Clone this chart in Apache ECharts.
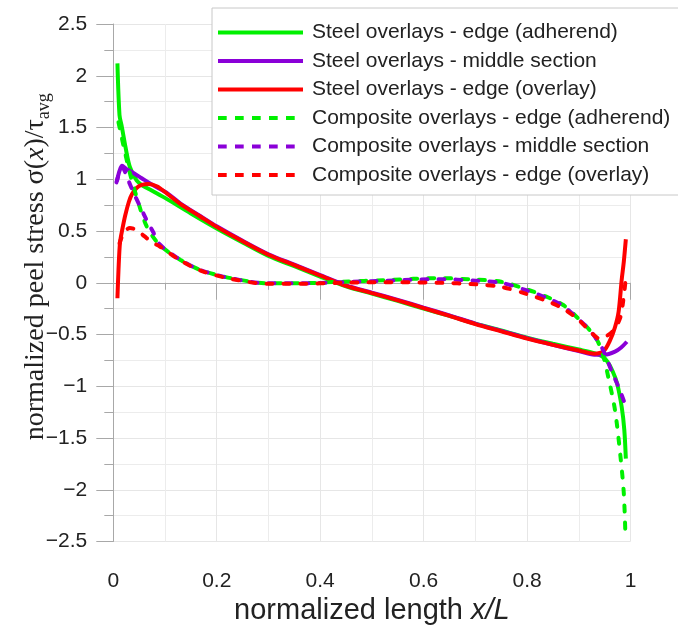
<!DOCTYPE html>
<html>
<head>
<meta charset="utf-8">
<script src="https://cdn.jsdelivr.net/npm/echarts@6/dist/echarts.min.js"></script>
<style>
html,body{margin:0;padding:0;background:#fff;}
#chart{width:678px;height:626px;}
</style>
</head>
<body>
<div id="chart"></div>
<script>
// ---- data ----
const seriesNames = [
  'Steel overlays - edge (adherend)',
  'Steel overlays - middle section',
  'Steel overlays - edge (overlay)',
  'Composite overlays - edge (adherend)',
  'Composite overlays - middle section',
  'Composite overlays - edge (overlay)'
];

const steelAdhX = [0.008,0.012,0.016,0.024,0.032,0.045,0.058,0.075,0.1,0.15,0.2,0.25,0.3,0.35,0.4,0.45,0.5,0.55,0.6,0.65,0.7,0.75,0.8,0.85,0.9,0.93,0.945,0.955,0.965,0.974,0.983,0.988,0.991];
const steelAdhY = [2.12,1.62,1.52,1.3,1.12,0.99,0.935,0.89,0.82,0.67,0.525,0.39,0.26,0.16,0.06,-0.035,-0.105,-0.175,-0.25,-0.32,-0.395,-0.46,-0.53,-0.59,-0.645,-0.68,-0.71,-0.76,-0.85,-0.97,-1.2,-1.42,-1.7];

const steelMidX = [0.007,0.012,0.017,0.025,0.039,0.055,0.071,0.085,0.103,0.13,0.168,0.2,0.25,0.3,0.35,0.4,0.45,0.5,0.55,0.6,0.65,0.7,0.75,0.8,0.85,0.9,0.93,0.95,0.97,0.982,0.993];
const steelMidY = [0.98,1.08,1.13,1.1,1.06,1.01,0.96,0.92,0.87,0.765,0.645,0.545,0.405,0.275,0.175,0.075,-0.025,-0.095,-0.165,-0.24,-0.315,-0.395,-0.465,-0.535,-0.6,-0.66,-0.695,-0.695,-0.665,-0.625,-0.57];

const steelOvlX = [0.008,0.010,0.013,0.018,0.023,0.03,0.036,0.045,0.055,0.068,0.085,0.103,0.13,0.168,0.2,0.25,0.3,0.35,0.4,0.45,0.5,0.55,0.6,0.65,0.7,0.75,0.8,0.85,0.9,0.93,0.948,0.961,0.97,0.977,0.983,0.987,0.991];
const steelOvlY = [-0.15,0.12,0.39,0.53,0.65,0.78,0.855,0.915,0.945,0.955,0.93,0.865,0.76,0.64,0.54,0.40,0.27,0.17,0.07,-0.03,-0.10,-0.17,-0.245,-0.32,-0.40,-0.47,-0.54,-0.60,-0.655,-0.685,-0.66,-0.55,-0.43,-0.28,0.03,0.2,0.42];

const compAdhX = [0.01,0.016,0.023,0.032,0.045,0.065,0.09,0.13,0.17,0.23,0.3,0.36,0.44,0.53,0.63,0.7,0.75,0.8,0.84,0.87,0.9,0.918,0.935,0.947,0.957,0.97,0.98,0.987,0.99];
const compAdhY = [1.55,1.41,1.25,1.06,0.83,0.54,0.365,0.22,0.12,0.042,-0.005,-0.005,0.01,0.026,0.045,0.03,0.01,-0.065,-0.14,-0.215,-0.35,-0.44,-0.55,-0.7,-0.91,-1.23,-1.65,-2.03,-2.41];

const compMidX = [0.006,0.012,0.017,0.022,0.029,0.04,0.052,0.065,0.077,0.09,0.13,0.17,0.23,0.3,0.36,0.44,0.53,0.63,0.7,0.75,0.8,0.84,0.87,0.9,0.918,0.935,0.947,0.964,0.978,0.99];
const compMidY = [0.97,1.07,1.12,1.08,0.99,0.86,0.735,0.6,0.49,0.37,0.22,0.12,0.04,-0.006,-0.006,0.005,0.02,0.035,0.02,0.0,-0.075,-0.15,-0.225,-0.355,-0.44,-0.55,-0.65,-0.86,-1.02,-1.18];

const compOvlX = [0.012,0.02,0.032,0.045,0.06,0.075,0.09,0.13,0.17,0.23,0.3,0.36,0.44,0.53,0.63,0.7,0.75,0.8,0.84,0.87,0.9,0.918,0.941,0.955,0.967,0.98,0.986,0.99];
const compOvlY = [0.38,0.48,0.53,0.51,0.45,0.39,0.35,0.215,0.115,0.035,-0.01,-0.01,0.0,0.005,0.0,-0.015,-0.04,-0.11,-0.18,-0.25,-0.36,-0.45,-0.54,-0.51,-0.46,-0.34,-0.17,0.0];

const xTicks = {min: 0, max: 1, step: 0.2};
const yTicks = {min: -2.5, max: 2.5, step: 0.5};

// ---- build ----
const GREEN = '#00f000', PURPLE = '#8a00d8', RED = '#ff0000';
const SOLID_ICON = 'path://M0,0H85V4H0Z';
const DASH_ICON = 'path://M0,0H8.7V4H0Z M17,0H25.7V4H17Z M34,0H42.7V4H34Z M51,0H59.7V4H51Z M68,0H76.7V4H68Z M85,0L85,4';
function pairs(xs, ys){ return xs.map((x,i)=>[x, ys[i]]); }
const defs = [
  [steelAdhX, steelAdhY, GREEN, 'solid'],
  [steelMidX, steelMidY, PURPLE, 'solid'],
  [steelOvlX, steelOvlY, RED, 'solid'],
  [compAdhX, compAdhY, GREEN, 'dash'],
  [compMidX, compMidY, PURPLE, 'dash'],
  [compOvlX, compOvlY, RED, 'dash']
];
const series = defs.map((d,i)=>({
  name: seriesNames[i],
  type: 'line',
  data: pairs(d[0], d[1]),
  showSymbol: false,
  symbol: 'none',
  smooth: 0.3,
  animation: false,
  lineStyle: {
    color: d[2],
    width: 4,
    type: d[3] === 'dash' ? [6, 11] : 'solid',
    cap: d[3] === 'dash' ? 'round' : 'butt'
  },
  itemStyle: {color: d[2]}
}));
const legendData = defs.map((d,i)=>({name: seriesNames[i], icon: d[3] === 'dash' ? DASH_ICON : SOLID_ICON}));

const fmt = v => String(+v.toFixed(2)).replace('-', '\u2212');
const SANS = 'Liberation Sans, Arial, sans-serif';
const SERIF = 'Liberation Serif, Times New Roman, serif';

const chart = echarts.init(document.getElementById('chart'), null, {renderer: 'canvas'});
chart.setOption({
  backgroundColor: '#fff',
  animation: false,
  grid: {left: 113.3, right: 47.5, top: 24, bottom: 84.5, containLabel: false, outerBoundsMode: 'none'},
  legend: {
    orient: 'vertical',
    left: 212, top: 8,
    backgroundColor: '#fff',
    borderColor: '#c8c8c8',
    borderWidth: 1,
    padding: [14, 12, 9.5, 6],
    itemWidth: 85, itemHeight: 4, itemGap: 7.5,
    textStyle: {fontFamily: SANS, fontSize: 21, color: '#222', padding: [0,0,0,4]},
    data: legendData
  },
  xAxis: {
    type: 'value',
    min: xTicks.min, max: xTicks.max, interval: xTicks.step,
    name: '{a|normalized length }{b|x/L}',
    nameLocation: 'middle',
    nameGap: 55,
    nameMoveOverlap: false,
    nameTextStyle: {
      rich: {
        a: {fontFamily: SANS, fontSize: 29, color: '#222'},
        b: {fontFamily: SANS, fontSize: 29, color: '#222', fontStyle: 'italic'}
      }
    },
    axisLine: {show: true, lineStyle: {color: '#a8a8a8', width: 1}},
    axisTick: {show: true, length: 17, lineStyle: {color: '#a8a8a8'}},
    minorTick: {show: true, splitNumber: 2, length: 7, lineStyle: {color: '#a8a8a8'}},
    splitLine: {show: true, lineStyle: {color: '#e6e6e6', width: 1}},
    minorSplitLine: {show: true, lineStyle: {color: '#ececec', width: 1}},
    axisLabel: {fontFamily: SANS, fontSize: 21, color: '#222', margin: 29, formatter: fmt}
  },
  yAxis: {
    type: 'value',
    min: yTicks.min, max: yTicks.max, interval: yTicks.step,
    name: '{s|normalized peel stress \u03c3(}{i|x}{s|)/\u03c4}{sub|avg}',
    nameLocation: 'middle',
    nameGap: 60,
    nameRotate: 90,
    nameMoveOverlap: false,
    nameTextStyle: {
      padding: [0, 0, 0, 32],
      rich: {
        s: {fontFamily: SERIF, fontSize: 28, color: '#222', lineHeight: 36},
        i: {fontFamily: SERIF, fontSize: 28, color: '#222', fontStyle: 'italic', lineHeight: 36},
        sub: {fontFamily: SERIF, fontSize: 18, color: '#222', lineHeight: 36, verticalAlign: 'bottom'}
      }
    },
    axisLine: {show: true, lineStyle: {color: '#a8a8a8', width: 1}},
    axisTick: {show: true, length: 17, lineStyle: {color: '#a8a8a8'}},
    minorTick: {show: true, splitNumber: 2, length: 9, lineStyle: {color: '#a8a8a8'}},
    splitLine: {show: true, lineStyle: {color: '#e6e6e6', width: 1}},
    minorSplitLine: {show: true, lineStyle: {color: '#ececec', width: 1}},
    axisLabel: {fontFamily: SANS, fontSize: 21, color: '#222', margin: 26, formatter: fmt}
  },
  series: series
});
</script>
</body>
</html>
